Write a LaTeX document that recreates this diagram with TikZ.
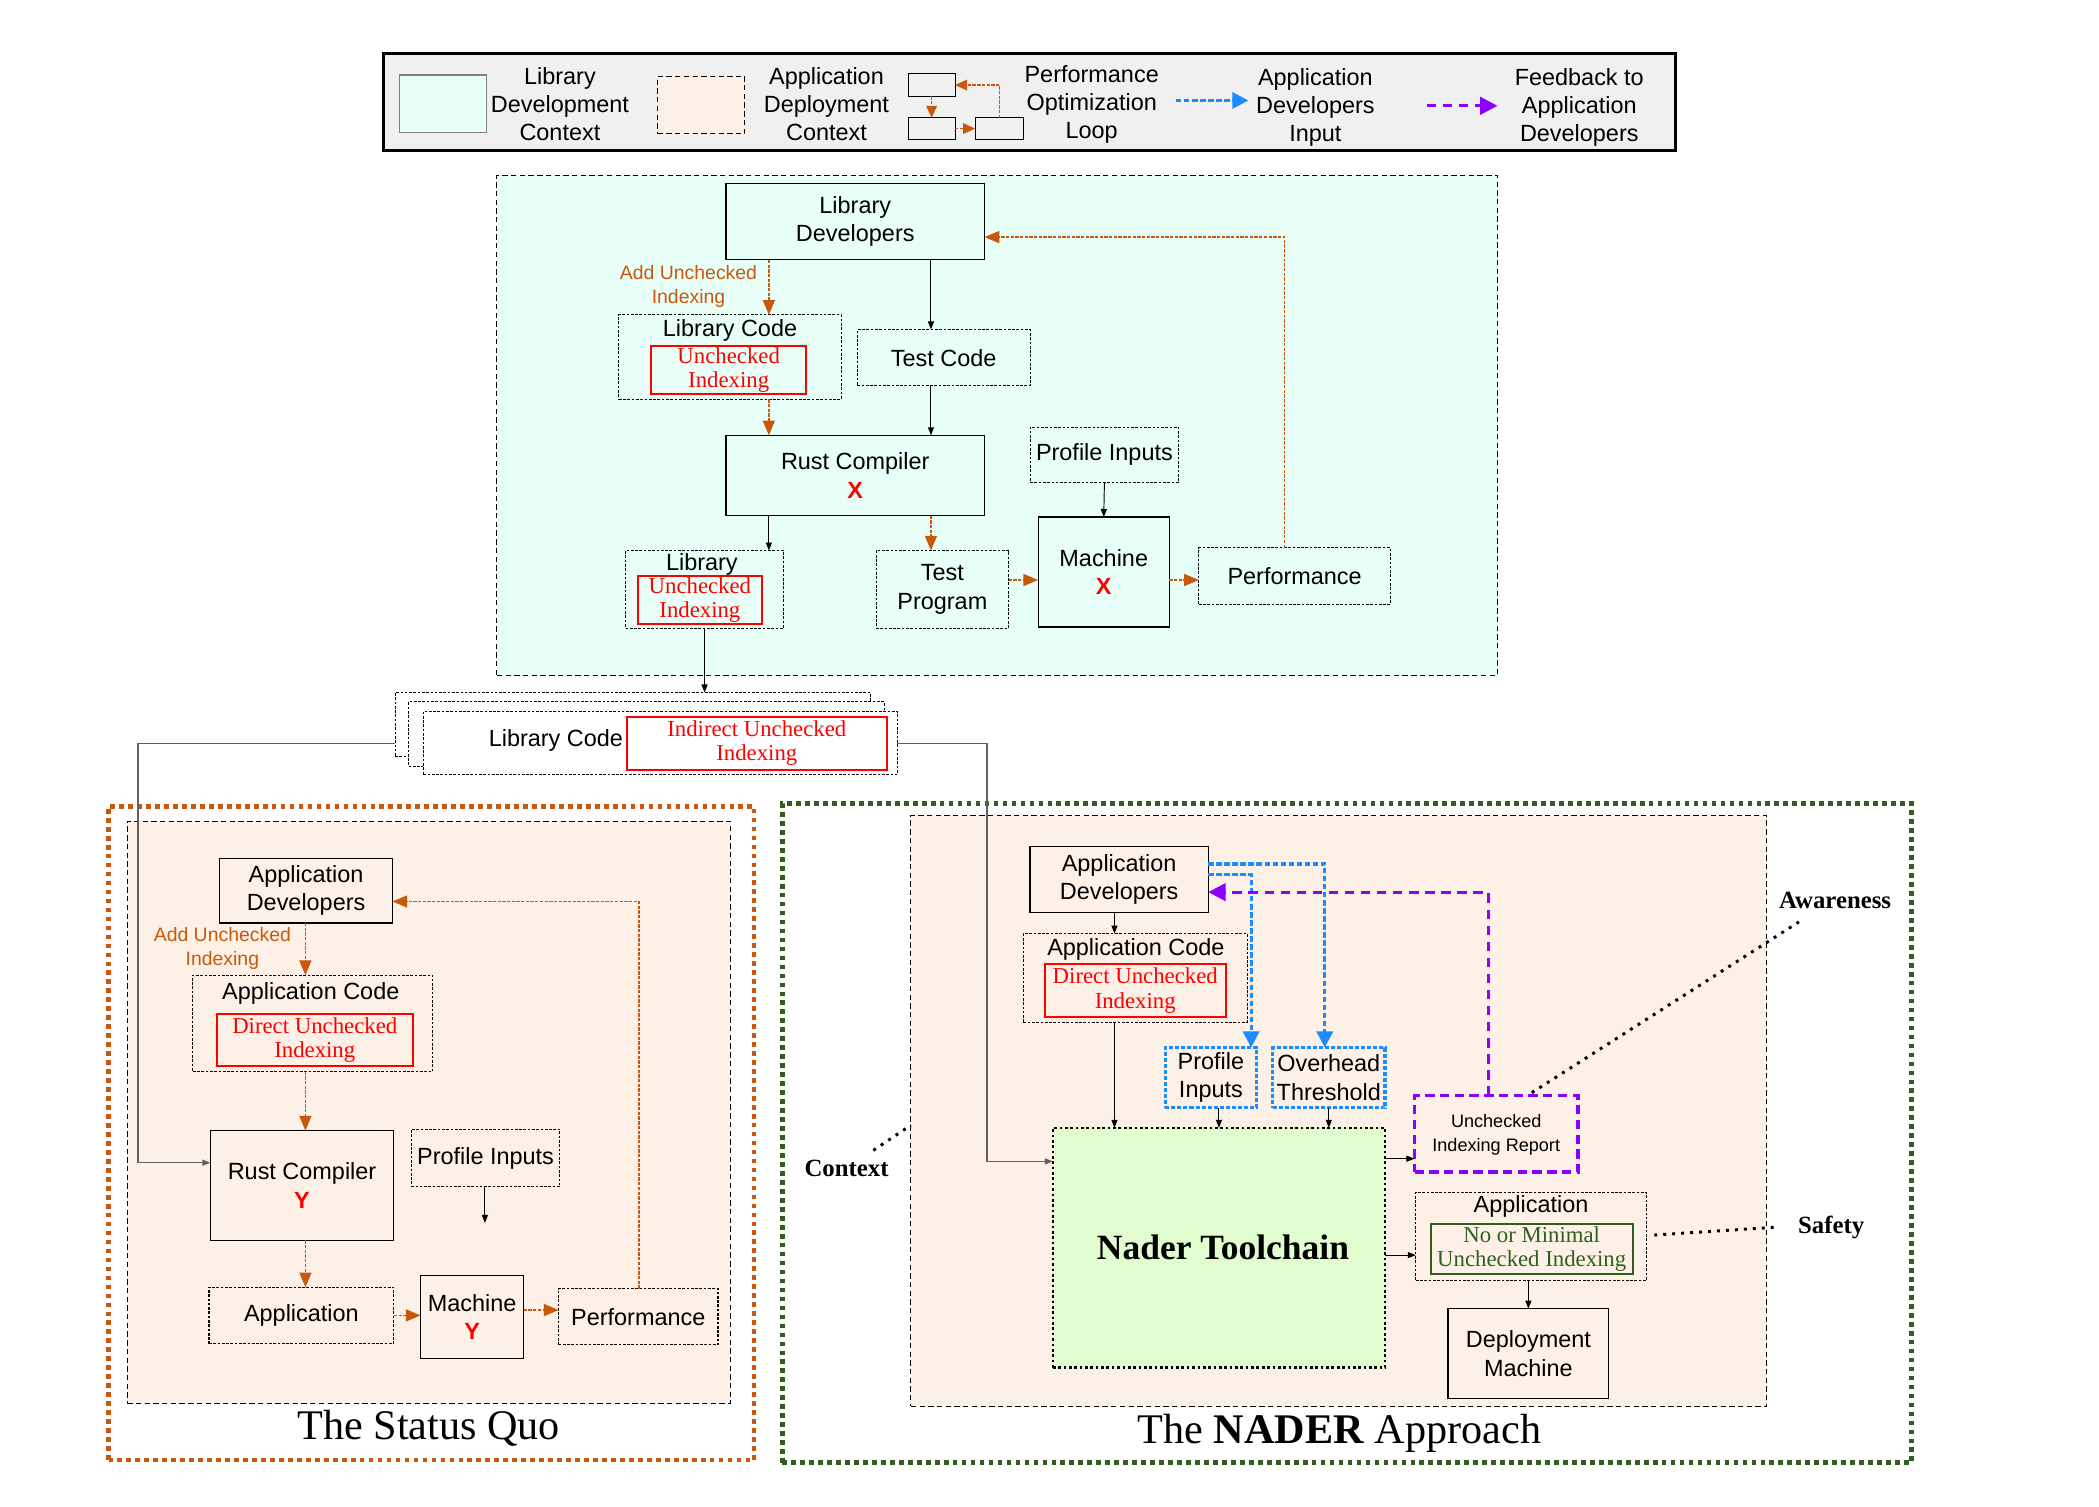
\documentclass[tikz,border=0pt]{standalone}
\usepackage{fontspec}
\setmainfont{Liberation Serif}
\setsansfont{Liberation Sans}
\usetikzlibrary{arrows.meta}
\definecolor{orn}{HTML}{C9580F}
\definecolor{cyanbg}{HTML}{E8FFF8}
\definecolor{peach}{HTML}{FDF0E7}
\definecolor{ngreen}{HTML}{E1FCCF}
\definecolor{dgreen}{HTML}{2F5F1F}
\definecolor{bblue}{HTML}{1A8CFF}
\definecolor{vpurple}{HTML}{8C00FF}
\definecolor{leggray}{HTML}{F0F0F0}
\definecolor{lgray}{HTML}{606060}
\newcommand\bx[7]{\node[#2,minimum width={(#5-#3)*1pt},minimum height={(#6-#4)*1pt}] (#1) at ({(#3+#5)/2},{(#4+#6)/2}) {#7};}
\begin{document}
\begin{tikzpicture}[x=1pt,y=-1pt,
  every node/.style={font=\sffamily\fontsize{17.5}{21}\selectfont, inner sep=0pt, outer sep=0pt, align=center},
  solidbox/.style={draw, line width=0.9pt},
  dotbox/.style={draw, line width=0.8pt, dash pattern=on 2pt off 1.2pt},
  regionbox/.style={draw, line width=0.8pt, dash pattern=on 4pt off 2.5pt},
  redbox/.style={draw=red, line width=1.5pt, text=red, font=\rmfamily\fontsize{17}{18}\selectfont},
  grnbox/.style={draw=dgreen, line width=1.5pt, text=dgreen, font=\rmfamily\fontsize{17}{18}\selectfont},
  bluebox/.style={draw=bblue, line width=2.4pt, dash pattern=on 3pt off 1.5pt},
  purpbox/.style={draw=vpurple, line width=2.5pt, dash pattern=on 7pt off 4pt},
  orntext/.style={text=orn, font=\sffamily\fontsize{14.5}{18}\selectfont},
  annot/.style={font=\rmfamily\bfseries\fontsize{18.5}{21}\selectfont},
  oarr/.style={draw=orn, line width=1pt, dash pattern=on 2.5pt off 1pt, -{Triangle[length=11pt,width=9pt]}, orn},
  oarrs/.style={draw=orn, line width=1pt, dash pattern=on 2.5pt off 1pt, -{Triangle[length=9pt,width=8pt]}, orn},
  blk/.style={draw=black, line width=0.7pt, -{Triangle[length=6pt,width=4.5pt]}},
  garr/.style={draw=lgray, line width=1.1pt, -{Triangle[length=6pt,width=4.5pt]}},
  bluearr/.style={draw=bblue, line width=2.4pt, dash pattern=on 4pt off 2pt, -{Triangle[length=12pt,width=12pt]}, bblue},
  purparr/.style={draw=vpurple, line width=2.4pt, dash pattern=on 7pt off 5pt, -{Triangle[length=13pt,width=13pt]}, vpurple},
  annline/.style={draw=black, line width=2.2pt, dash pattern=on 2.2pt off 4.5pt}
]
\useasboundingbox (0,0) rectangle (1567,1125);

% ---------------- Legend ----------------
\bx{legend}{draw, line width=2.2pt, fill=leggray}{286}{40}{1251}{112}{}
\bx{swc}{draw=gray, line width=0.8pt, fill=cyanbg}{298}{56}{363}{99}{}
\node (tlc) at (418,78) {Library\\Development\\Context};
\bx{swp}{regionbox, fill=peach}{491}{57}{556}{100}{}
\node (tpc) at (617,78) {Application\\Deployment\\Context};
\bx{la}{draw, line width=0.8pt}{678}{55}{713}{72}{}
\bx{lb}{draw, line width=0.8pt}{678}{88}{713}{104}{}
\bx{lc0}{draw, line width=0.8pt}{728}{88}{764}{104}{}
\draw[oarrs] (lc0.north) |- (la.east);
\draw[oarrs] (la.south) -- (lb.north);
\draw[oarrs] (lb.east) -- (lc0.west);
\node (tpo) at (815,78) {Performance\\Optimization\\Loop};
\coordinate (lbl1) at (878,75);
\coordinate (lbl2) at (932,75);
\draw[bluearr] (lbl1) -- (lbl2);
\node (tadi) at (982,80) {Application\\Developers\\Input};
\coordinate (lpl1) at (1065,79);
\coordinate (lpl2) at (1118,79);
\draw[purparr] (lpl1) -- (lpl2);
\node (tfad) at (1179,80) {Feedback to\\Application\\Developers};

% ---------------- Library development context ----------------
\bx{libctx}{regionbox, fill=cyanbg}{371}{131}{1118}{504}{}
\bx{ld}{solidbox}{542}{137}{735}{194}{Library\\Developers}
\node[orntext] (addA) at (514,214) {Add Unchecked\\Indexing};
\bx{lcode}{dotbox}{462}{235}{628}{298}{}
\node (lcodet) at (545,247) {Library Code};
\bx{lcoder}{redbox}{486}{258}{602}{294}{Unchecked\\Indexing}
\bx{tc}{dotbox}{640}{246}{769}{288}{Test Code}
\bx{rc}{solidbox}{542}{325}{735}{385}{Rust Compiler\\{\color{red}\bfseries X}}
\bx{pi}{dotbox}{769}{319}{880}{360}{Profile Inputs}
\bx{mach}{solidbox}{775}{386}{873}{468}{Machine\\{\color{red}\bfseries X}}
\bx{perf}{dotbox}{895}{409}{1038}{451}{Performance}
\bx{lib}{dotbox}{467}{411}{585}{469}{}
\node (libt) at (524,421) {Library};
\bx{libr}{redbox}{476}{430}{569}{466}{Unchecked\\Indexing}
\bx{tp}{dotbox}{654}{411}{753}{469}{Test\\Program}

\coordinate (xA) at (574,0);
\coordinate (xB) at (695,0);
\coordinate (xP) at (959,177);
\coordinate (yQ) at (0,433);
\draw[oarr] (ld.south -| xA) -- (lcode.north -| xA);
\draw[blk] (ld.south -| xB) -- (tc.north -| xB);
\draw[oarr] (lcode.south -| xA) -- (rc.north -| xA);
\draw[blk] (tc.south -| xB) -- (rc.north -| xB);
\draw[blk] (pi.south) -- (mach.north);
\draw[blk] (rc.south -| xA) -- (lib.north -| xA);
\draw[oarr] (rc.south -| xB) -- (tp.north -| xB);
\draw[oarr] (tp.east |- yQ) -- (mach.west |- yQ);
\draw[oarr] (mach.east |- yQ) -- (perf.west |- yQ);
\draw[oarr] (perf.north -| xP) |- (ld.east |- xP);

% ---------------- Stacked library code ----------------
\bx{stk1}{dotbox, fill=white}{295}{517}{650}{565}{}
\bx{stk2}{dotbox, fill=white}{305}{524}{660}{572}{}
\bx{stk3}{dotbox, fill=white}{316}{531}{670}{578}{}
\node (stkt) at (415,553) {Library Code};
\bx{stkr}{redbox}{468}{535}{662}{575}{Indirect Unchecked\\Indexing}
\draw[blk] (lib.south) -- (stk1.north -| lib.south);

% ---------------- The Status Quo ----------------
\bx{sqframe}{draw=orn, line width=3.5pt, dash pattern=on 3.5pt off 3.2pt}{81}{602}{563}{1090}{}
\bx{sqreg}{regionbox, fill=peach}{95}{613}{545}{1048}{}
\bx{ad2}{solidbox}{164}{641}{293}{689}{Application\\Developers}
\node[orntext] (addB) at (166,708) {Add Unchecked\\Indexing};
\bx{ac2}{dotbox}{144}{728}{323}{800}{}
\node (ac2t) at (232,742) {Application Code};
\bx{ac2r}{redbox}{162}{757}{308}{796}{Direct Unchecked\\Indexing}
\bx{rc2}{solidbox}{157}{844}{294}{926}{Rust Compiler\\{\color{red}\bfseries Y}}
\bx{pi2}{dotbox}{307}{843}{418}{886}{Profile Inputs}
\coordinate (pi2end) at (362,913);
\bx{app2}{dotbox}{156}{961}{294}{1003}{Application}
\bx{m2}{solidbox}{314}{952}{391}{1014}{Machine\\{\color{red}\bfseries Y}}
\bx{perf2}{dotbox}{417}{962}{536}{1004}{Performance}
\node[font=\rmfamily\fontsize{31.5}{36}\selectfont] (sqt) at (320,1066) {The Status Quo};

\coordinate (xC) at (228,0);
\coordinate (yM) at (0,978);
\coordinate (xQ) at (477,673);
\draw[oarr] (ad2.south -| xC) -- (ac2.north -| xC);
\draw[oarr] (ac2.south -| xC) -- (rc2.north -| xC);
\draw[oarr] (rc2.south -| xC) -- (app2.north -| xC);
\draw[blk] (pi2.south -| pi2end) -- (pi2end);
\draw[oarr] (app2.east) -- (app2.east -| m2.west);
\draw[oarr] (m2.east |- yM) -- (perf2.west |- yM);
\draw[oarr] (perf2.north -| xQ) |- (ad2.east |- xQ);

% ---------------- The NADER approach ----------------
\bx{nframe}{draw=dgreen, line width=3.5pt, dash pattern=on 3.5pt off 3.2pt}{584}{600}{1427}{1092}{}
\bx{nreg}{regionbox, fill=peach}{680}{609}{1319}{1050}{}
\bx{ad3}{solidbox}{769}{632}{902}{681}{Application\\Developers}
\bx{ac3}{dotbox}{764}{697}{931}{763}{}
\node (ac3t) at (848,709) {Application Code};
\bx{ac3r}{redbox}{780}{720}{915}{759}{Direct Unchecked\\Indexing}
\bx{pi3}{bluebox}{870}{782}{938}{827}{Profile\\Inputs}
\bx{ot3}{bluebox}{950}{782}{1034}{827}{Overhead\\Threshold}
\bx{nader}{draw, line width=1.8pt, dash pattern=on 2pt off 2pt, fill=ngreen}{786}{842}{1034}{1021}{}
\node[font=\rmfamily\bfseries\fontsize{26.5}{30}\selectfont] (nadert) at (913,931) {Nader Toolchain};
\bx{rep}{purpbox}{1056}{818}{1178}{875}{}
\node[font=\sffamily\fontsize{13.5}{18}\selectfont] (rept) at (1117,847) {Unchecked\\Indexing Report};
\bx{app3}{dotbox}{1057}{890}{1229}{956}{}
\node (app3t) at (1143,901) {Application};
\bx{app3g}{grnbox}{1068}{914}{1219}{951}{No or Minimal\\Unchecked Indexing}
\bx{dm}{solidbox}{1081}{977}{1201}{1044}{Deployment\\Machine}
\node[font=\rmfamily\fontsize{31.5}{36}\selectfont] (nt) at (1000,1070) {The \textbf{NADER} Approach};

\coordinate (xD) at (832,0);
\coordinate (xE) at (910,0);
\coordinate (xF) at (992,0);
\coordinate (yR) at (0,865);
\coordinate (yS) at (0,937);
\coordinate (xG) at (1141,0);
\draw[blk] (ad3.south -| xD) -- (ac3.north -| xD);
\draw[blk] (ac3.south -| xD) -- (nader.north -| xD);
\draw[blk] (pi3.south -| xE) -- (nader.north -| xE);
\draw[blk] (ot3.south -| xF) -- (nader.north -| xF);
\draw[blk] (nader.east |- yR) -- (rep.west |- yR);
\draw[blk] (nader.east |- yS) -- (app3.west |- yS);
\draw[blk] (app3.south -| xG) -- (dm.north -| xG);

\coordinate (bA) at (989,645);
\coordinate (bB) at (934,653);
\coordinate (pA) at (1111,666);
\draw[bluearr] (ad3.east |- bA) -| (ot3.north -| bA);
\draw[bluearr] (ad3.east |- bB) -| (pi3.north -| bB);
\draw[purparr] (rep.north -| pA) |- (ad3.east |- pA);

% annotations
\node[annot] (aw) at (1370,672) {Awareness};
\node[annot] (ctx) at (632,872) {Context};
\node[annot] (saf) at (1367,916) {Safety};
\draw[annline] ([xshift=-27pt,yshift=-10pt]aw.south) -- ([xshift=23pt]rep.north);
\draw[annline] ([xshift=20pt,yshift=7pt]ctx.north) -- ([yshift=-10.5pt]nreg.west);
\draw[annline] ([xshift=6pt,yshift=1pt]app3.east) -- ([xshift=-14pt]saf.west);

% ---------------- library code links ----------------
\coordinate (c1) at (103,555);
\coordinate (c2) at (103,868);
\coordinate (c3) at (737,555);
\coordinate (c4) at (737,867);
\draw[garr] (stk1.west |- c1) -- (c1) -- (c2) -- (rc2.west |- c2);
\draw[garr] (stk3.east |- c3) -- (c3) -- (c4) -- (nader.west |- c4);
\end{tikzpicture}
\end{document}
